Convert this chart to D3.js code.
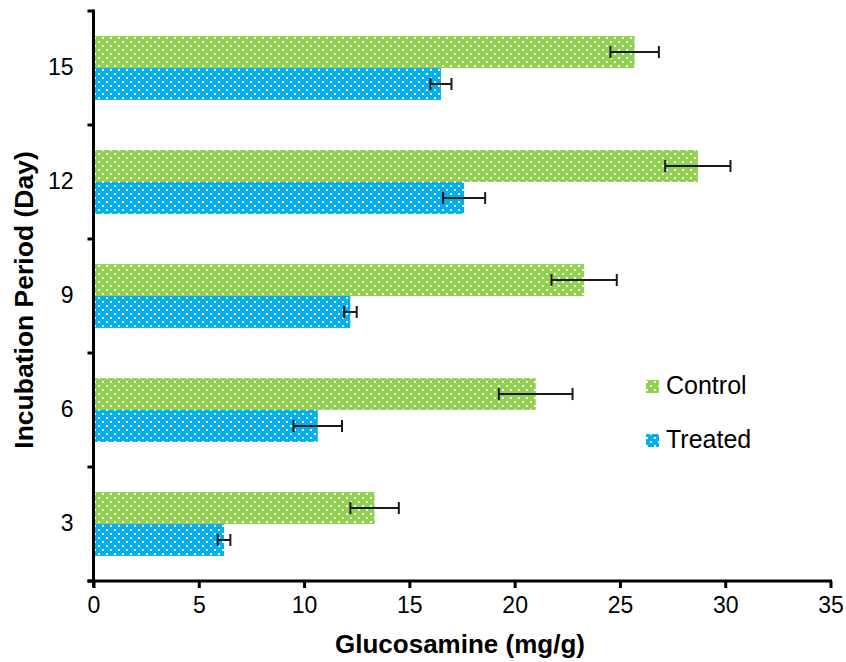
<!DOCTYPE html>
<html>
<head>
<meta charset="utf-8">
<script src="https://cdn.jsdelivr.net/npm/d3@7"></script>
<style>
  body { margin: 0; background: #fff; }
  svg { display: block; font-family: "Liberation Sans", Arial, sans-serif; }
</style>
</head>
<body>
<svg id="chart" width="846" height="662"></svg>
<script>
const days = ["3", "6", "9", "12", "15"];
const controlValues = [13.35, 21.0, 23.3, 28.7, 25.7];
const controlErrors = [1.15, 1.75, 1.55, 1.55, 1.15];
const treatedValues = [6.2, 10.65, 12.2, 17.6, 16.5];
const treatedErrors = [0.3, 1.15, 0.3, 1.0, 0.5];
const xTicks = [0, 5, 10, 15, 20, 25, 30, 35];
const seriesNames = ["Control", "Treated"];
const seriesColors = ["#92D050", "#00B0F0"];

const svg = d3.select("#chart");
const mLeft = 93.5, mRight = 830.5, mTop = 11, mBottom = 581;

const x = d3.scaleLinear().domain([0, 35]).range([mLeft, mRight]);
const y = d3.scaleBand().domain(days.slice().reverse()).range([mTop, mBottom]).paddingInner(0).paddingOuter(0);
const bw = y.bandwidth();
const barOffset = bw * 0.22;
const barH = (bw - 2 * barOffset) / 2;

const defs = svg.append("defs");
seriesColors.forEach((c, i) => {
  const p = defs.append("pattern")
    .attr("id", "pat" + i)
    .attr("patternUnits", "userSpaceOnUse")
    .attr("width", 8).attr("height", 8);
  p.append("rect").attr("width", 8).attr("height", 8).attr("fill", c);
  p.append("rect").attr("x", 2).attr("y", 1).attr("width", 2).attr("height", 2).attr("fill", "#fff");
  p.append("rect").attr("x", 6).attr("y", 5).attr("width", 2).attr("height", 2).attr("fill", "#fff");
});

const data = days.map((d, i) => ({
  day: d,
  series: [
    { v: controlValues[i], e: controlErrors[i], k: 0 },
    { v: treatedValues[i], e: treatedErrors[i], k: 1 }
  ]
}));

const g = svg.append("g");
data.forEach(d => {
  d.series.forEach(s => {
    const yy = y(d.day) + barOffset + s.k * barH;
    g.append("rect")
      .attr("x", x(0)).attr("y", yy)
      .attr("width", x(s.v) - x(0)).attr("height", barH)
      .attr("fill", "url(#pat" + s.k + ")");
    const cy = yy + barH / 2;
    const eg = g.append("g").attr("stroke", "#1a1a1a").attr("stroke-width", 2).attr("fill", "none");
    eg.append("line").attr("x1", x(s.v - s.e)).attr("x2", x(s.v + s.e)).attr("y1", cy).attr("y2", cy);
    eg.append("line").attr("x1", x(s.v - s.e)).attr("x2", x(s.v - s.e)).attr("y1", cy - 6).attr("y2", cy + 6);
    eg.append("line").attr("x1", x(s.v + s.e)).attr("x2", x(s.v + s.e)).attr("y1", cy - 6).attr("y2", cy + 6);
  });
});

const xAxis = svg.append("g").attr("transform", `translate(0,${mBottom})`)
  .call(d3.axisBottom(x).tickValues(xTicks).tickSize(7).tickSizeOuter(0).tickPadding(9));
xAxis.select(".domain").attr("d", `M${mLeft - 6},0H${mRight + 1.5}`).attr("stroke", "#000").attr("stroke-width", 3);
xAxis.selectAll(".tick line").attr("stroke", "#000").attr("stroke-width", 3);
xAxis.selectAll(".tick text").attr("font-size", 23).attr("fill", "#000")
  .attr("font-family", "Liberation Sans, Arial, sans-serif");

const yAxis = svg.append("g").attr("transform", `translate(${mLeft},0)`)
  .call(d3.axisLeft(y).tickSize(0).tickPadding(20));
yAxis.select(".domain").attr("d", `M0,${mTop - 1.5}V${mBottom + 6}`).attr("stroke", "#000").attr("stroke-width", 3);
yAxis.selectAll(".tick text").attr("font-size", 23).attr("fill", "#000")
  .attr("font-family", "Liberation Sans, Arial, sans-serif");
const bounds = y.domain().map(d => y(d)).concat([mBottom]);
yAxis.append("g").selectAll("line").data(bounds).join("line")
  .attr("x1", -6).attr("x2", 0).attr("y1", d => d).attr("y2", d => d)
  .attr("stroke", "#000").attr("stroke-width", 3);

svg.append("text")
  .attr("x", 460).attr("y", 653)
  .attr("text-anchor", "middle")
  .attr("font-size", 26).attr("font-weight", "bold").attr("fill", "#000")
  .text("Glucosamine (mg/g)");
svg.append("text")
  .attr("transform", "translate(33,300) rotate(-90)")
  .attr("text-anchor", "middle")
  .attr("font-size", 26.5).attr("font-weight", "bold").attr("fill", "#000")
  .text("Incubation Period (Day)");

const legend = svg.append("g");
seriesNames.forEach((n, i) => {
  const ly = 394 + i * 54;
  legend.append("rect").attr("x", 646).attr("y", ly - 14).attr("width", 13).attr("height", 13)
    .attr("fill", "url(#pat" + i + ")");
  legend.append("text").attr("x", 666).attr("y", ly)
    .attr("font-size", 25).attr("fill", "#000").text(n);
});
</script>
</body>
</html>
